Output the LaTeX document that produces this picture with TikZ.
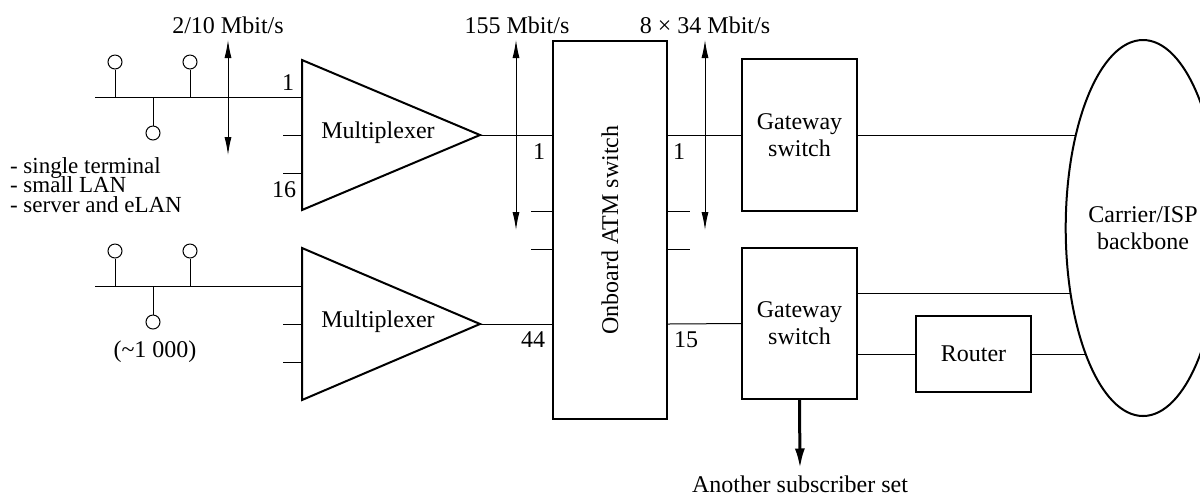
\documentclass[tikz,border=0pt]{standalone}
\usepackage{fontspec}
\setmainfont{Liberation Serif}
\usetikzlibrary{shapes.geometric,arrows.meta,positioning,backgrounds}

\begin{document}
\begin{tikzpicture}[
    x=0.5pt, y=-0.5pt,
    every node/.style={align=center, font=\fontsize{12}{13.5}\selectfont},
    box/.style={draw, line width=1pt, inner sep=0pt},
    wire/.style={line width=0.5pt},
    term/.style={draw, circle, line width=0.5pt, inner sep=0pt, minimum size=7pt},
    rate/.style={{Latex[length=9pt,width=3.5pt]}-{Latex[length=9pt,width=3.5pt]}, line width=0.5pt},
    outarrow/.style={-{Latex[length=10pt,width=5pt]}, line width=1.5pt}
]
    \useasboundingbox (0,0) rectangle (1200,495);

    % switches and backbone
    \node[box, minimum width=57pt, minimum height=189pt] (atm) at (610,230) {\rotatebox{90}{Onboard ATM switch}};
    \node[box, minimum width=57.5pt, minimum height=76pt] (gw1) at (799.5,135) {Gateway\\switch};
    \node[box, minimum width=57.5pt, minimum height=75.5pt] (gw2) at (799.5,323.5) {Gateway\\switch};
    \node[box, minimum width=57.5pt, minimum height=38pt] (router) at (973.5,354) {Router};
    \node[draw, ellipse, line width=1pt, fill=white, inner sep=0pt, minimum width=65pt, minimum height=188pt] (backbone) at (1143,228) {Carrier/ISP\\backbone};
    \node (other) at (800,484) {Another subscriber set};

    % multiplexers
    \draw[line width=1pt] (302,60) -- (480,135) coordinate (mux1out) -- (302,210) -- cycle;
    \draw[line width=1pt] (302,248) -- (480,324) coordinate (mux2out) -- (302,400) -- cycle;
    \node (mux1) at (378,133) {Multiplexer};
    \node (mux2) at (378,322) {Multiplexer};

    % subscriber LANs
    \foreach \n/\y in {a/97, b/286} {
        \draw[wire] (95,\y) -- (302,\y);
        \node[term] (t\n1) at (115,\y-35) {};
        \node[term] (t\n2) at (190,\y-35) {};
        \node[term] (t\n3) at (153,\y+36) {};
        \draw[wire] (t\n1) -- (115,\y);
        \draw[wire] (t\n2) -- (190,\y);
        \draw[wire] (t\n3) -- (153,\y);
    }
    \foreach \y in {135, 173, 324, 362}
        \draw[wire] (283,\y) -- (302,\y);
    \foreach \y in {211, 249} {
        \draw[wire] (531,\y) -- (atm.west |- 0,\y);
        \draw[wire] (atm.east |- 0,\y) -- (690,\y);
    }

    \node[anchor=west, align=left, font=\fontsize{11.5}{13.5}\selectfont] (kinds) at (3,185) {- single terminal\\[-3.8pt]- small LAN\\[-3.8pt]- server and eLAN};
    \node (count) at (155,352) {(\textasciitilde1 000)};

    % links
    \draw[wire] (mux1out) -- (mux1out -| atm.west);
    \draw[wire] (mux2out) -- (mux2out -| atm.west);
    \draw[wire] (atm.east |- mux1out) -- (gw1.west);
    \draw[wire] (atm.east |- mux2out) -- (gw2.west);
    \draw[wire] (gw2.east |- router.west) -- (router.west);
    \path ([yshift=15.25pt]gw2.east) coordinate (gw2up);
    \begin{scope}[on background layer]
        \draw[wire] (gw1.east) -- (gw1.east -| backbone.center);
        \draw[wire] (gw2up) -- (gw2up -| backbone.center);
        \draw[wire] (router.east) -- (router.east -| backbone.center);
    \end{scope}
    \draw[outarrow] (gw2.south) -- (other.north);

    % port numbers
    \node at (288,83) {1};
    \node at (284,190) {16};
    \node at (539,152) {1};
    \node at (679,152) {1};
    \node at (533,340) {44};
    \node at (686,340) {15};

    % rates
    \node (lanrate) at (228,25) {2/10 Mbit/s};
    \node (muxrate) at (517,25) {155 Mbit/s};
    \node (gwrate) at (705,25) {8 × 34 Mbit/s};
    \draw[rate] (228,40) -- (228,155);
    \draw[rate] (516,40) -- (516,230);
    \draw[rate] (705,40) -- (705,230);
\end{tikzpicture}
\end{document}
